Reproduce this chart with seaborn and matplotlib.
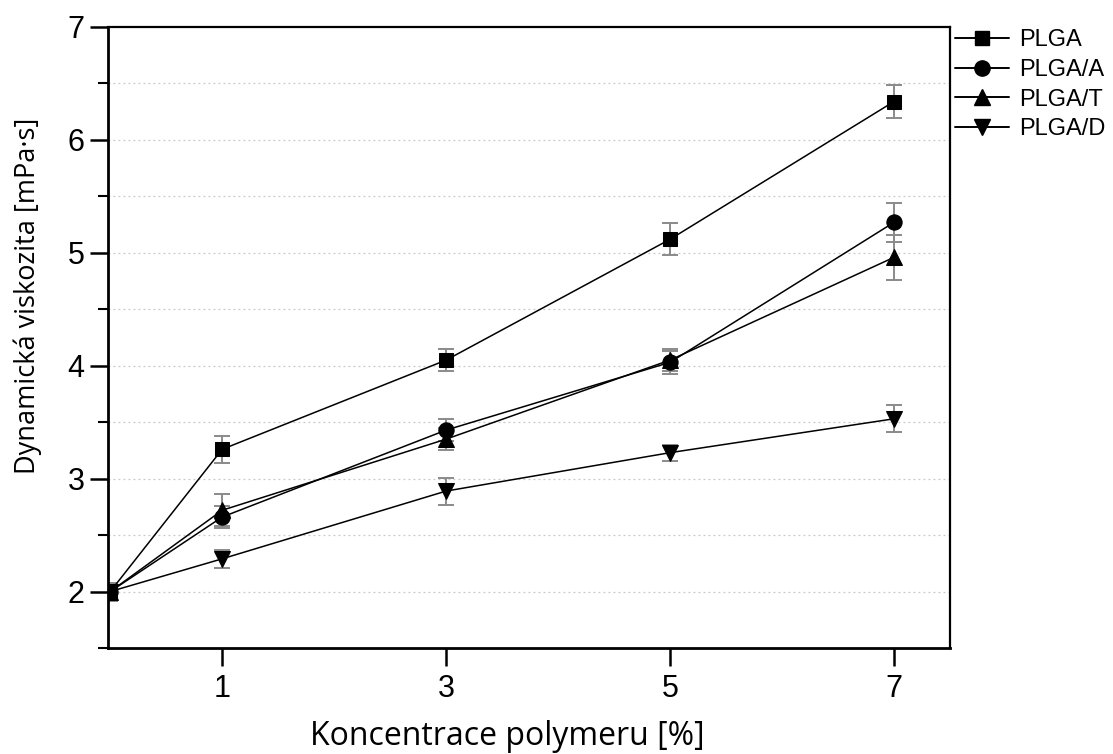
import numpy as np
import pandas as pd
import matplotlib
matplotlib.use("Agg")
import matplotlib.pyplot as plt
import seaborn as sns
from matplotlib.ticker import MultipleLocator, FixedLocator
from matplotlib.lines import Line2D

# ---- data ----
concentrations = [0, 1, 3, 5, 7]
series_names = ["PLGA", "PLGA/A", "PLGA/T", "PLGA/D"]
plga = [2.00, 3.26, 4.05, 5.12, 6.34]
plga_a = [2.00, 2.66, 3.43, 4.03, 5.27]
plga_t = [2.00, 2.72, 3.35, 4.05, 4.96]
plga_d = [2.00, 2.29, 2.89, 3.23, 3.53]
err_plga = [0.08, 0.12, 0.10, 0.14, 0.15]
err_plga_a = [0.08, 0.10, 0.10, 0.10, 0.17]
err_plga_t = [0.08, 0.14, 0.10, 0.10, 0.20]
err_plga_d = [0.08, 0.08, 0.12, 0.07, 0.12]
xtick_labels = ["1", "3", "5", "7"]

values = [plga, plga_a, plga_t, plga_d]
errors = [err_plga, err_plga_a, err_plga_t, err_plga_d]

rows = []
for name, vals, errs in zip(series_names, values, errors):
    for c, v, e in zip(concentrations, vals, errs):
        rows.append({"c": c, "v": v, "e": e, "series": name})
df = pd.DataFrame(rows)

sns.set_theme(style="white")
plt.rcParams['font.family'] = ['Liberation Sans', 'DejaVu Sans']
plt.rcParams['text.color'] = 'black'
plt.rcParams['axes.labelcolor'] = 'black'
plt.rcParams['xtick.color'] = 'black'
plt.rcParams['ytick.color'] = 'black'

fig = plt.figure(figsize=(11.13, 7.54), dpi=100)
ax = fig.add_axes([108/1113, 1-648/754, (950-108)/1113, (648-27)/754])

# error bars (gray)
for name in series_names:
    d = df[df.series == name]
    ax.errorbar(d.c, d.v, yerr=d.e, fmt="none", ecolor="#8a8a8a",
                elinewidth=1.4, capsize=6, capthick=1.4, zorder=2)

markers = {"PLGA": "s", "PLGA/A": "o", "PLGA/T": "^", "PLGA/D": "v"}
msizes = {"PLGA": 9.5, "PLGA/A": 11, "PLGA/T": 11, "PLGA/D": 11}
sns.lineplot(data=df, x="c", y="v", hue="series", style="series",
             markers=markers, dashes=False, palette=["black"]*4,
             markersize=11, markeredgecolor="black", linewidth=1.1,
             ax=ax, legend=False, zorder=3, sort=False)
for line, n in zip(ax.get_lines()[-4:], series_names):
    line.set_markersize(msizes[n])

ax.set_xlim(-0.02, 7.5)
ax.set_ylim(1.5, 7)
ax.xaxis.set_major_locator(FixedLocator([1, 3, 5, 7]))
ax.set_xticklabels(xtick_labels)
ax.set_yticks([2, 3, 4, 5, 6, 7])
ax.yaxis.set_minor_locator(MultipleLocator(0.5))

ax.grid(False)
for yv in np.arange(2.0, 7.0, 0.5):
    ax.axhline(yv, color="#c8c8c8", linestyle=(0, (1.5, 2.5)), linewidth=0.9, zorder=0)

for s in ["left", "bottom"]:
    ax.spines[s].set_linewidth(2.0)
for s in ["top", "right"]:
    ax.spines[s].set_linewidth(1.6)
for s in ax.spines.values():
    s.set_color("black")

ax.tick_params(axis="both", which="major", direction="out", length=13, width=1.8,
               color="black", labelcolor="black", labelsize=22, left=True, bottom=True)
ax.tick_params(axis="x", which="major", pad=6)
ax.tick_params(axis="y", which="major", pad=4)
ax.tick_params(axis="y", which="minor", direction="out", length=7, width=1.5,
               color="black", left=True)

ax.set_xlabel("")
ax.set_ylabel("")
fig.text(507/1113, 1-745/754, "Koncentrace polymeru [%]", family=["Open Sans", "DejaVu Sans"],
         fontsize=23, ha="center", va="baseline", color="black")
fig.text(28/1113, 1-296/754, "Dynamická viskozita [mPa·s]", family=["Open Sans", "DejaVu Sans"],
         fontsize=19.5, ha="center", va="center", rotation=90, color="black")

handles = [Line2D([], [], color="black", marker=markers[n], markersize=msizes[n], linewidth=1.4)
           for n in series_names]
fig.legend(handles, series_names, loc="upper left", bbox_to_anchor=(955/1113, 1-29/754),
           frameon=False, fontsize=17, handlelength=2.3, handletextpad=0.4,
           labelspacing=0.33, borderpad=0, borderaxespad=0, labelcolor="black")

fig.savefig("out.png", dpi=100)
